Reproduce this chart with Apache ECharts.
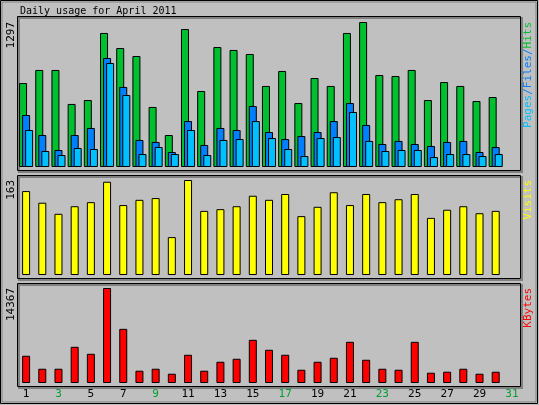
<!DOCTYPE html>
<html><head><meta charset="utf-8">
<script src="https://cdn.jsdelivr.net/npm/echarts@6/dist/echarts.min.js"></script>
<style>html,body{margin:0;padding:0;background:#c0c0c0}#c{width:539px;height:405px}</style>
</head><body><div id="c"></div>
<script>
const days = Array.from({length:31},(_,i)=>String(i+1));
const weekend = ['2','3','9','10','16','17','23','24','30','31'];
const hits  = [751,868,868,564,599,1199,1064,993,537,286,1234,680,1073,1047,1011,725,859,572,796,725,1199,1297,823,814,868,599,760,725,590,626,null];
const files = [465,286,152,286,349,975,716,242,224,134,411,197,349,331,546,313,250,277,313,411,572,376,206,233,206,188,224,233,134,179,null];
const pages = [331,143,107,170,161,930,644,116,179,116,331,107,242,250,411,259,161,98,259,268,492,233,143,152,152,89,116,116,98,116,null];
const visits = [144,124,105,118,125,160,120,129,132,65,163,110,113,118,136,129,139,101,117,142,120,139,125,130,139,98,112,118,106,110,null];
const kbytes = [4117,2157,2157,5474,4418,14367,8188,1855,2157,1402,4268,1855,3212,3664,6530,5022,4268,2006,3212,3815,6228,3514,2157,2006,6228,1553,1704,2157,1402,1704,null];
const maxHits = 1297, maxVisits = 163, maxKB = 14367;

const F = 'DejaVu Sans Mono';
const grids = [{left:18,width:502,top:22,height:145},{left:18,width:502,top:180,height:95},{left:18,width:502,top:288,height:95}];
const xAxes = grids.map((g,i)=>({gridIndex:i,type:'category',data:days,
  axisLine:{show:false},axisTick:{show:false},
  axisLabel:{show:i===2,margin:6,fontFamily:F,fontSize:11,color:(v)=>weekend.includes(v)?'#00a030':'#000'}}));
const maxes=[maxHits,maxVisits,maxKB];
const yAxes = maxes.map((m,i)=>({gridIndex:i,min:0,max:m,show:false,splitLine:{show:false}}));
const bs = c=>({color:c,borderColor:'#000',borderWidth:1});
const series = [
 {type:'bar',xAxisIndex:0,yAxisIndex:0,data:hits,barWidth:8,barGap:'-62%',itemStyle:bs('#00c030')},
 {type:'bar',xAxisIndex:0,yAxisIndex:0,data:files,barWidth:8,barGap:'-62%',itemStyle:bs('#0080ff')},
 {type:'bar',xAxisIndex:0,yAxisIndex:0,data:pages,barWidth:8,barGap:'-62%',itemStyle:bs('#00c0ff')},
 {type:'bar',xAxisIndex:1,yAxisIndex:1,data:visits,barWidth:8,itemStyle:bs('#ffff00')},
 {type:'bar',xAxisIndex:2,yAxisIndex:2,data:kbytes,barWidth:8,itemStyle:bs('#ff0000')}
];
const panel=(y,h)=>[
 {type:'rect',z:-1,shape:{x:19,y:y+1,width:503,height:h},style:{fill:'none',stroke:'#808080',lineWidth:2}},
 {type:'rect',z:-1,shape:{x:17.5,y:y-0.5,width:503,height:h},style:{fill:'none',stroke:'#000',lineWidth:1}}];
const vtext=(x,y,t,color,rich)=>({type:'text',x:x,y:y,rotation:Math.PI/2,
  style:{text:t,fill:color,font:'11px '+F,align:'right',verticalAlign:'middle',rich:rich}});
const chart = echarts.init(document.getElementById('c'),null,{renderer:'canvas'});
chart.setOption({
 backgroundColor:'#c0c0c0',animation:false,
 grid:grids,xAxis:xAxes,yAxis:yAxes,series:series,
 graphic:[
  {type:'rect',shape:{x:0.5,y:0.5,width:537,height:403},style:{fill:'none',stroke:'#000',lineWidth:1}},
  {type:'rect',shape:{x:2,y:2,width:534,height:400},style:{fill:'none',stroke:'#808080',lineWidth:1}},
  {type:'text',x:20,y:11,style:{text:'Daily usage for April 2011',font:'10px '+F,fill:'#000',verticalAlign:'middle'}},
  ...panel(17,154),...panel(176,103),...panel(284,103),
  vtext(11,22,'1297','#000'),vtext(11,180,'163','#000'),vtext(11,288,'14367','#000'),
  vtext(528,22,'{p|Pages}{f|/Files/}{h|Hits}','#000',{p:{fill:'#00c0ff',font:'11px '+F},f:{fill:'#0080ff',font:'11px '+F},h:{fill:'#00c030',font:'11px '+F}}),
  vtext(528,180,'Visits','#ffff00'),
  vtext(528,288,'KBytes','#ff0000')
 ]
});
</script></body></html>
